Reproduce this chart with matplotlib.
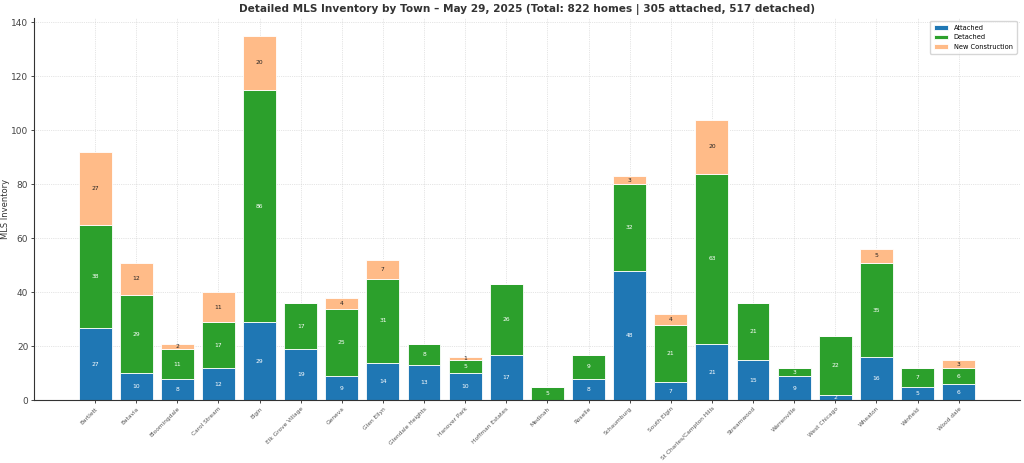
import numpy as np
import matplotlib.pyplot as plt

towns = ["Bartlett", "Batavia", "Bloomingdale", "Carol Stream", "Elgin",
         "Elk Grove Village", "Geneva", "Glen Ellyn", "Glendale Heights",
         "Hanover Park", "Hoffman Estates", "Medinah", "Roselle", "Schaumburg",
         "South Elgin", "St Charles/Campton Hills", "Streamwood", "Warrenville",
         "West Chicago", "Wheaton", "Winfield", "Wood dale"]
attached = [27, 10, 8, 12, 29, 19, 9, 14, 13, 10, 17, 0, 8, 48, 7, 21, 15, 9, 2, 16, 5, 6]
detached = [38, 29, 11, 17, 86, 17, 25, 31, 8, 5, 26, 5, 9, 32, 21, 63, 21, 3, 22, 35, 7, 6]
new_construction = [27, 12, 2, 11, 20, 0, 4, 7, 0, 1, 0, 0, 0, 3, 4, 20, 0, 0, 0, 5, 0, 3]

att = np.array(attached)
det = np.array(detached)
new = np.array(new_construction)
x = np.arange(len(towns))

fig, ax = plt.subplots(figsize=(10.24, 4.63), dpi=100)
fig.subplots_adjust(left=0.033, right=0.996, top=0.962, bottom=0.135)

b1 = ax.bar(x, att, 0.8, color='#1f77b4', edgecolor='white', linewidth=0.6, label='Attached')
b2 = ax.bar(x, det, 0.8, bottom=att, color='#2ca02c', edgecolor='white', linewidth=0.6, label='Detached')
b3 = ax.bar(x, new, 0.8, bottom=att + det, color='#ffbb88', edgecolor='white', linewidth=0.6,
            label='New Construction')

# segment labels
for bars, vals, bottoms, col in [(b1, att, np.zeros_like(att), 'white'),
                                 (b2, det, att, 'white'),
                                 (b3, new, att + det, '#222222')]:
    for rect, v, b in zip(bars, vals, bottoms):
        if v > 0:
            ax.text(rect.get_x() + rect.get_width() / 2, b + v / 2, str(v),
                    ha='center', va='center', fontsize=4.3, color=col)

ax.set_xticks(x)
ax.set_xticklabels(towns, rotation=45, ha='right', rotation_mode='anchor', fontsize=4.2, color='#555555')
ax.tick_params(axis='x', length=2, width=0.5, pad=2)
ax.tick_params(axis='y', labelsize=6.5, labelcolor='#444444', length=2, width=0.5, pad=2)
ax.set_ylabel('MLS Inventory', fontsize=6, color='#333333')
ax.yaxis.set_label_coords(-0.024, 0.5)
ax.set_title('Detailed MLS Inventory by Town – May 29, 2025 (Total: 822 homes | 305 attached, 517 detached)',
             fontsize=7.6, fontweight='bold', color='#333333', pad=4)

ax.grid(True, linestyle=':', linewidth=0.5, color='#cccccc')
ax.set_axisbelow(True)
ax.spines['top'].set_visible(False)
ax.spines['right'].set_visible(False)
ax.spines['left'].set_color('#333333')
ax.spines['bottom'].set_color('#333333')
ax.spines['left'].set_linewidth(0.8)
ax.spines['bottom'].set_linewidth(0.8)

ax.legend(loc='upper right', fontsize=4.8, frameon=True, handlelength=2.2, borderpad=0.6)

plt.savefig('out.png', dpi=100)
